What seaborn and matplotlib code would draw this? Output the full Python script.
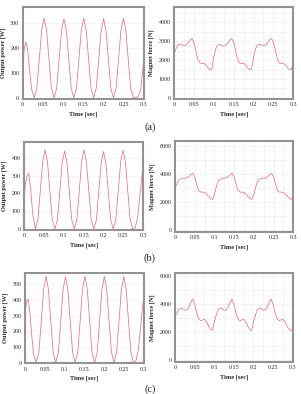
import matplotlib
matplotlib.use("Agg")
import matplotlib.pyplot as plt
import seaborn as sns
import pandas as pd
from matplotlib.ticker import MultipleLocator

sns.set_style("white")
plt.rcParams['font.family'] = ['Liberation Serif', 'DejaVu Serif']

# ---------------- data ----------------
t_power = [0, 0.004, 0.008, 0.012, 0.017, 0.022, 0.0285,
           0.035, 0.041, 0.047, 0.053, 0.059, 0.065, 0.071, 0.0775,
           0.084, 0.090, 0.096, 0.102, 0.108, 0.114, 0.120, 0.1265,
           0.133, 0.139, 0.145, 0.151, 0.157, 0.163, 0.169, 0.1755,
           0.182, 0.188, 0.194, 0.200, 0.206, 0.212, 0.218, 0.2245,
           0.231, 0.237, 0.243, 0.249, 0.255, 0.261, 0.267, 0.2735,
           0.280, 0.286, 0.292, 0.2975, 0.300]

power_a = [130, 200, 225, 195, 110, 35, 0,
           38, 155, 272, 320, 272, 155, 38, 0,
           38, 153, 270, 318, 270, 153, 38, 0,
           38, 155, 272, 320, 272, 155, 38, 0,
           38, 153, 270, 318, 270, 153, 38, 0,
           38, 155, 272, 320, 272, 155, 38, 0,
           0, 5, 35, 120, 180]

power_b = [170, 260, 300, 312, 215, 85, 0,
           53, 214, 378, 445, 378, 214, 53, 0,
           52, 210, 372, 438, 372, 210, 52, 0,
           53, 214, 378, 445, 378, 214, 53, 0,
           52, 209, 370, 435, 370, 209, 52, 0,
           53, 212, 376, 442, 376, 212, 53, 0,
           10, 70, 200, 320, 375]

power_c = [300, 395, 405, 330, 170, 50, 0,
           66, 265, 469, 552, 469, 265, 66, 0,
           66, 263, 466, 548, 466, 263, 66, 0,
           66, 265, 469, 552, 469, 265, 66, 0,
           66, 264, 468, 550, 468, 264, 66, 0,
           66, 264, 468, 550, 468, 264, 66, 0,
           15, 90, 240, 380, 430]

t_force = [round(0.005 * i, 3) for i in range(61)]

force_a = [2300, 2600, 2800, 2850, 2800, 2760, 2800, 2900, 3050, 3150,
           2950, 2500, 2050, 1850, 1820, 1830, 1750, 1600, 1500, 1520,
           2150, 2600, 2800, 2830, 2780, 2750, 2790, 2900, 3050, 3150,
           2950, 2480, 2040, 1850, 1820, 1830, 1750, 1600, 1500, 1520,
           2150, 2600, 2800, 2840, 2790, 2760, 2800, 2900, 3060, 3150,
           2950, 2500, 2050, 1850, 1830, 1830, 1750, 1600, 1500, 1520,
           1900]

force_b = [3000, 3300, 3550, 3650, 3680, 3700, 3720, 3800, 3950, 4050,
           3800, 3250, 2800, 2700, 2700, 2680, 2550, 2400, 2250, 2180,
           2550, 3100, 3500, 3620, 3670, 3690, 3720, 3800, 3950, 4050,
           3800, 3250, 2800, 2700, 2700, 2680, 2550, 2400, 2250, 2180,
           2550, 3100, 3500, 3630, 3680, 3700, 3720, 3810, 3960, 4050,
           3790, 3250, 2800, 2700, 2700, 2670, 2550, 2400, 2250, 2180,
           2500]

force_c = [3100, 3350, 3600, 3700, 3650, 3550, 3550, 3750, 4100, 4350,
           4000, 3400, 2950, 2800, 2850, 2900, 2750, 2450, 2200, 2100,
           2700, 3200, 3580, 3700, 3650, 3560, 3550, 3750, 4100, 4350,
           4000, 3400, 2950, 2800, 2850, 2900, 2750, 2450, 2200, 2100,
           2700, 3200, 3580, 3700, 3660, 3560, 3560, 3760, 4100, 4350,
           3990, 3400, 2950, 2800, 2850, 2900, 2750, 2450, 2200, 2100,
           2200]

x_ticks = [0, 0.05, 0.1, 0.15, 0.2, 0.25, 0.3]
x_tick_labels = ["0", "0.05", "0.1", "0.15", "0.2", "0.25", "0.3"]
panel_labels = ["(a)", "(b)", "(c)"]

# ---------------- layout ----------------
W, H = 301, 394
fig = plt.figure(figsize=(W / 100, H / 100), dpi=100)

def add_ax(l, t, r, b):
    return fig.add_axes([l / W, 1 - b / H, (r - l) / W, (b - t) / H])

line_color = "#e4737f"
spine_color = "#939393"
fs_tick = 4.3
fs_label = 4.6

def style(ax, ylim, ystep, ylabel, minor_y=None, fine=False):
    ax.set_xlim(0, 0.3)
    ax.set_ylim(*ylim)
    ax.set_xticks(x_ticks)
    ax.set_xticklabels(x_tick_labels)
    ax.yaxis.set_major_locator(MultipleLocator(ystep))
    ax.tick_params(axis='both', length=0, pad=2.5, labelsize=fs_tick)
    for s in ax.spines.values():
        s.set_color(spine_color)
        s.set_linewidth(1.5)
    ax.set_xlabel("Time [sec]", fontsize=fs_label, fontweight='bold', labelpad=3)
    ax.set_ylabel(ylabel, fontsize=fs_label, fontweight='bold', labelpad=3)
    if fine:
        ax.xaxis.set_minor_locator(MultipleLocator(0.025))
        ax.yaxis.set_minor_locator(MultipleLocator(minor_y))
        ax.tick_params(which='minor', length=0)
        ax.grid(which='both', color='#ededed', linewidth=0.4)
    else:
        ax.grid(axis='y', color='#ededed', linewidth=0.4)
    ax.set_axisbelow(True)

boxes_left = [(22.7, 7, 144, 99), (24, 141.7, 143.3, 230), (25, 273.3, 144, 363.3)]
boxes_right = [(174, 7.3, 293.3, 99), (175, 141, 293.3, 232), (175, 272.7, 292.7, 361.7)]

powers = [power_a, power_b, power_c]
forces = [force_a, force_b, force_c]
p_ylims = [(-5, 365), (-5, 490), (-4, 570)]
p_steps = [100, 100, 100]
f_ylims = [(-60, 4800), (-150, 6350), (-130, 6230)]
f_steps = [1000, 2000, 2000]
f_minor = [500, 1000, 1000]
label_y = [127, 258, 389]

for i in range(3):
    axl = add_ax(*boxes_left[i])
    dfp = pd.DataFrame({"t": t_power, "p": powers[i]})
    sns.lineplot(data=dfp, x="t", y="p", ax=axl, color=line_color, linewidth=0.55)
    style(axl, p_ylims[i], p_steps[i], "Output power [W]")

    axr = add_ax(*boxes_right[i])
    dff = pd.DataFrame({"t": t_force, "f": forces[i]})
    sns.lineplot(data=dff, x="t", y="f", ax=axr, color=line_color, linewidth=0.55)
    style(axr, f_ylims[i], f_steps[i], "Magnet force [N]", minor_y=f_minor[i], fine=True)

    fig.text(150 / W, 1 - label_y[i] / H, panel_labels[i], ha='center', va='center',
             fontsize=7.5)

fig.savefig("out.png", dpi=100)
